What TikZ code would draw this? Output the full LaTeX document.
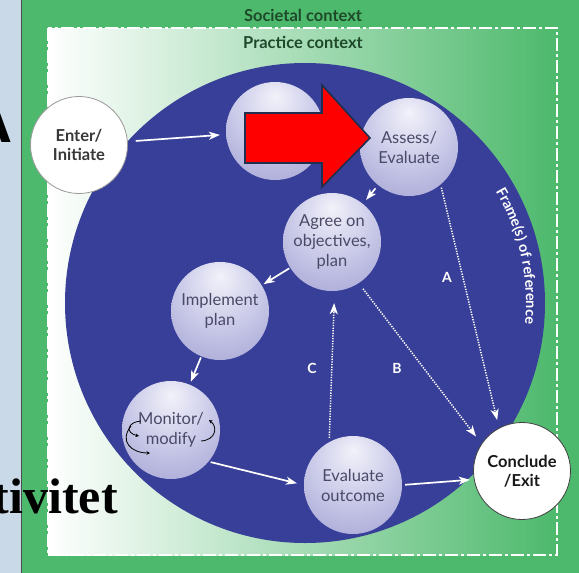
\documentclass[tikz,border=0pt]{standalone}
\usepackage{fontspec}
\setmainfont{Lato}
\newfontfamily\serifbig{Liberation Serif}
\newfontfamily\sansbig{Liberation Sans}
\usetikzlibrary{arrows.meta,decorations.text,calc}
\definecolor{ctxgreen}{HTML}{4DB96C}
\definecolor{ctxtext}{HTML}{1E4A2A}
\definecolor{stripblue}{HTML}{C9D9E8}
\definecolor{circblue}{HTML}{383F98}
\definecolor{sphA}{HTML}{F2F2FA}
\definecolor{sphB}{HTML}{C8C8E8}
\definecolor{sphC}{HTML}{8080C0}
\definecolor{sphtext}{HTML}{4A4A68}
\definecolor{arrowred}{HTML}{FF0000}
\definecolor{arrowedge}{HTML}{1F2F4F}
\pgfdeclareradialshading{sphshade}{\pgfpoint{0bp}{18bp}}{color(0bp)=(sphA); color(22bp)=(sphB); color(62bp)=(sphC); color(80bp)=(sphC)}
\tikzset{
  sph/.style={circle, minimum size=98pt, inner sep=0pt, shading=sphshade, text=sphtext,
    font=\fontsize{16.5}{20}\selectfont, align=center},
  wcirc/.style={circle, draw=#1, line width=0.8pt, fill=white, minimum size=97pt, inner sep=0pt,
    align=center, font=\bfseries\fontsize{16.5}{19}\selectfont},
  warrow/.style={-{Stealth[length=11pt,width=8pt,inset=3pt]}, white, line width=1.7pt},
  dotarrow/.style={-{Stealth[length=11pt,width=8pt,inset=3pt]}, white, line width=1.5pt,
    dash pattern=on 1.3pt off 1.3pt},
  lbl/.style={text=white, font=\bfseries\fontsize{14}{14}\selectfont, inner sep=0pt},
  ctx/.style={text=ctxtext, font=\bfseries\fontsize{16.5}{17}\selectfont, inner sep=0pt},
  mini/.style={black, line width=0.8pt, -{Stealth[length=3.5pt,width=3.5pt]}}
}
\begin{document}
\begin{tikzpicture}[x=1pt,y=-1pt]
\useasboundingbox (0,0) rectangle (579,573);
% left strip and context boxes
\fill[stripblue] (0,0) rectangle (22,573);
\fill[ctxgreen] (22,0) rectangle (579,573);
\draw[gray!60!black, line width=1pt] (21.5,0) -- (21.5,573);
\shade[left color=white, middle color=ctxgreen!40!white, right color=ctxgreen] (48,28) rectangle (557,555);
\draw[white, line width=2pt, dash pattern=on 13pt off 3pt on 3pt off 3pt] (48,28) rectangle (557,555);
\node[ctx] (soc) at (303,15) {Societal context};
\node[ctx] (prac) at (303,42) {Practice context};
% big circle
\fill[circblue] (305,303) circle[radius=240];
% spheres
\node[sph] (H) at (275,131) {};
\node[sph] (AE) at (409,147) {Assess/\\Evaluate};
\node[sph] (AG) at (332,242) {Agree on\\objectives,\\plan};
\node[sph] (IP) at (220,311) {Implement\\plan};
\node[sph] (MO) at (171,430) {Monitor/\\modify};
\node[sph] (EO) at (353,485) {Evaluate\\outcome};
\node[wcirc=gray!80, text=black!78] (EN) at (79,145) {Enter/\\Initiate};
\node[wcirc=black!75, text=black!90] (CE) at (522,471) {Conclude\\/Exit};
% solid arrows
\draw[warrow, shorten <=8pt, shorten >=6pt] (EN) -- (H);
\draw[warrow, shorten <=4pt, shorten >=5pt] (AE) -- (AG);
\draw[warrow, shorten <=1pt, shorten >=2pt] (AG) -- (IP);
\draw[warrow, shorten <=1pt, shorten >=3pt] (IP) -- (MO);
\draw[warrow, shorten <=2pt, shorten >=7pt] (MO.-40) -- (EO.west);
\draw[warrow, shorten <=3pt, shorten >=4pt] (EO.east) -- (CE.190);
% dotted arrows
\draw[dotarrow, shorten <=3pt, shorten >=8pt] (AE.-50) -- (CE.118);
\draw[dotarrow, shorten <=7pt, shorten >=9pt] (AG.-57) -- (CE.146);
\draw[dotarrow, shorten <=4pt, shorten >=12pt] (EO.119) -- (AG.-87);
\node[lbl] (la) at (447,277) {A};
\node[lbl] (lb) at (397,368) {B};
\node[lbl] (lc) at (312,368) {C};
% monitor/modify small arrows
\draw[mini] (141,421) .. controls (127,422) and (125,433) .. (139,436);
\draw[mini] (131,426) .. controls (119,441) and (131,453) .. (150,453);
\draw[mini] (201,441) .. controls (216,440) and (218,427) .. (209,420);
% frame of reference text along the circle
\path[decorate, decoration={text along path, text align=center,
  text={|\bfseries\color{white}\fontsize{14.5}{14.5}\selectfont|Frame(s) of reference}}]
  (305,303) ++(-33:221) arc[start angle=-33, end angle=8, radius=221];
% red block arrow
\draw[fill=arrowred, draw=arrowedge, line width=1.6pt, line join=miter]
  (245,113) -- (322,113) -- (322,85) -- (370,138) -- (322,187) -- (322,163) -- (245,163) -- cycle;
% slide text fragments
\node[anchor=south east, inner sep=0pt, font=\sansbig\bfseries\fontsize{64}{64}\selectfont] (bigA) at (13,143) {A};
\node[anchor=base east, inner sep=0pt, font=\serifbig\bfseries\fontsize{50}{50}\selectfont] (tiv) at (118,513) {tivitet};
\end{tikzpicture}
\end{document}
